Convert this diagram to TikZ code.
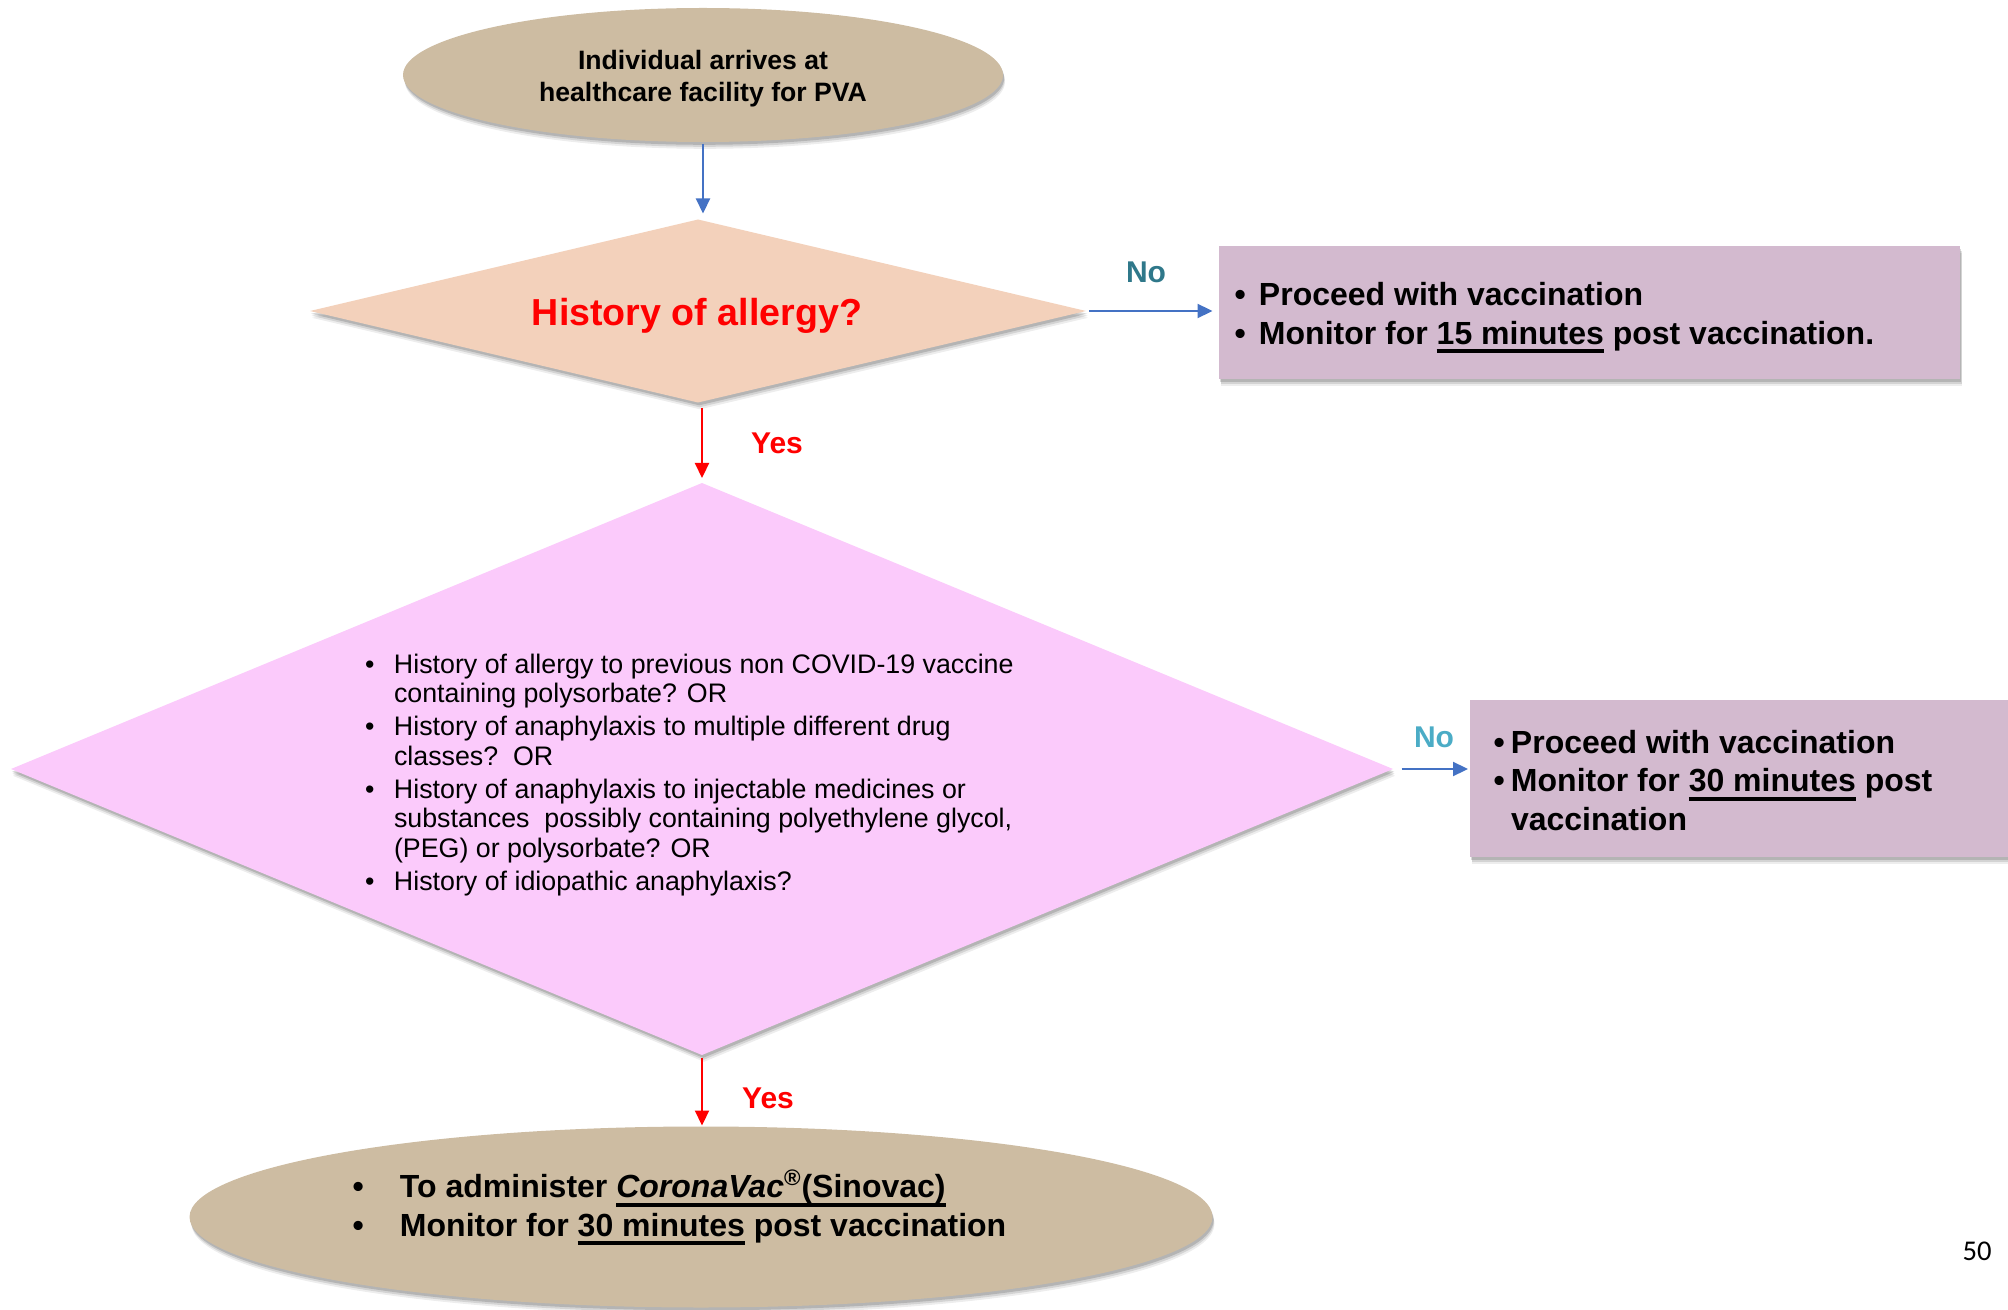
\documentclass[tikz,border=0pt]{standalone}
\usepackage{fontspec}
\setmainfont{Liberation Sans}
\newfontfamily\pagenumfont{Carlito}
\usetikzlibrary{arrows.meta,shapes.geometric,shadows}

\definecolor{tanfill}{RGB}{205,188,162}
\definecolor{peachfill}{RGB}{243,209,187}
\definecolor{lilacfill}{RGB}{211,186,207}
\definecolor{pinkfill}{RGB}{251,202,251}
\definecolor{flowblue}{RGB}{68,114,196}
\definecolor{noteal}{RGB}{47,120,138}
\definecolor{nocyan}{RGB}{75,172,198}
\definecolor{yesred}{RGB}{255,0,0}

% thick underline used for emphasised durations and the vaccine name
\newsavebox\ulsave
\newcommand{\ulbox}[1]{\sbox\ulsave{#1}\rlap{\rule[-0.28em]{\wd\ulsave}{0.12em}}\usebox\ulsave}

\tikzset{
  softshadow/.style={
    general shadow={shadow xshift=1.0pt, shadow yshift=-3.4pt, fill=black, opacity=0.07},
    general shadow={shadow xshift=0.8pt, shadow yshift=-2.4pt, fill=black, opacity=0.11},
    general shadow={shadow xshift=0.6pt, shadow yshift=-1.4pt, fill=black, opacity=0.15}},
  terminal/.style={ellipse, fill=tanfill, softshadow},
  decision/.style={diamond, softshadow},
  outcome/.style={rectangle, fill=lilacfill, softshadow},
  flow/.style={line width=1.1pt, -{Triangle[length=7.5pt,width=7pt]}},
  bluearrow/.style={flow, flowblue},
  redarrow/.style={flow, yesred},
  % multi-line lists are anchored at the baseline of their last line
  boldlist/.style={anchor=base west, align=left, font=\bfseries\fontsize{16}{19.2}\selectfont},
  plainlist/.style={anchor=base west, align=left, font=\fontsize{13.4}{14.75}\selectfont},
  answer/.style={font=\bfseries\fontsize{15}{18}\selectfont}
}

\begin{document}
\begin{tikzpicture}[x=0.5pt, y=-0.5pt, every node/.style={inner sep=0pt, outer sep=0pt}]
\useasboundingbox (0,0) rectangle (2008,1310);

% start
\node[terminal, minimum width=300pt, minimum height=67pt] (arrive) at (703,75) {};
\node[align=center, font=\bfseries\fontsize{13.3}{16}\selectfont] (arrivetext) at (703,79)
  {Individual arrives at\\healthcare facility for PVA};

% first question
\node[decision, fill=peachfill, minimum width=388pt, minimum height=91.5pt] (allergy) at (698,311) {};
\node[font=\bfseries\fontsize{18.8}{22}\selectfont, text=yesred] (allergytext) at (697,316)
  {History of allergy?};

% no allergy
\node[outcome, minimum width=370.5pt, minimum height=66.5pt] (proceedA) at (1589.5,312.5) {};
\node[boldlist] (proceedAtext) at (1234.5,344.1)
  {\makebox[12.25pt][l]{\textbullet}Proceed with vaccination\\
   \makebox[12.25pt][l]{\textbullet}Monitor for \ulbox{15 minutes} post vaccination.};

% second question
\node[decision, fill=pinkfill, minimum width=691pt, minimum height=286pt] (criteria) at (702,769) {};
\node[plainlist] (criteriatext) at (365,890)
  {\makebox[14.5pt][l]{\textbullet}History of allergy to previous non COVID-19 vaccine\\
   \hspace*{14.5pt}containing polysorbate? OR\\[1.75pt]
   \makebox[14.5pt][l]{\textbullet}History of anaphylaxis to multiple different drug\\
   \hspace*{14.5pt}classes?\ \ OR\\[1.75pt]
   \makebox[14.5pt][l]{\textbullet}History of anaphylaxis to injectable medicines or\\
   \hspace*{14.5pt}substances\ \ possibly containing polyethylene glycol,\\
   \hspace*{14.5pt}(PEG) or polysorbate? OR\\[1.75pt]
   \makebox[14.5pt][l]{\textbullet}History of idiopathic anaphylaxis?};

% no high-risk history
\node[outcome, minimum width=272.5pt, minimum height=78.5pt] (proceedB) at (1742.5,778.5) {};
\node[boldlist] (proceedBtext) at (1493.5,830)
  {\makebox[8.75pt][l]{\textbullet}Proceed with vaccination\\
   \makebox[8.75pt][l]{\textbullet}Monitor for \ulbox{30 minutes} post\\
   \hspace*{8.75pt}vaccination};

% high-risk history
\node[terminal, minimum width=511.5pt, minimum height=90.5pt] (final) at (701,1217) {};
\node[boldlist] (finaltext) at (352.5,1236)
  {\makebox[23.75pt][l]{\textbullet}To administer \ulbox{\textit{CoronaVac}\textsuperscript{\textregistered}(Sinovac)}\\
   \makebox[23.75pt][l]{\textbullet}Monitor for \ulbox{30 minutes} post vaccination};

% answers
\node[answer, text=noteal] (noA) at (1146,272) {No};
\node[answer, text=yesred] (yesA) at (777,443) {Yes};
\node[answer, text=nocyan] (noB) at (1434,737) {No};
\node[answer, text=yesred] (yesB) at (768,1098) {Yes};

% connectors
\draw[bluearrow, shorten <=1pt, shorten >=3pt] (arrive.south) -- (arrive.south |- allergy.north);
\draw[bluearrow, shorten <=1.5pt, shorten >=3.25pt] (allergy.east) -- (allergy.east -| proceedA.west);
\draw[redarrow, shorten <=2.75pt, shorten >=2.5pt] (criteria.north |- allergy.south) -- (criteria.north);
\draw[bluearrow, shorten <=4.25pt, shorten >=1pt] (criteria.east) -- (criteria.east -| proceedB.west);
\draw[redarrow, shorten <=1.25pt, shorten >=0.5pt] (criteria.south) -- (criteria.south |- final.north);

% page number
\node[font=\pagenumfont\fontsize{14.3}{16}\selectfont] (pagenum) at (1977,1251) {50};
\end{tikzpicture}
\end{document}
